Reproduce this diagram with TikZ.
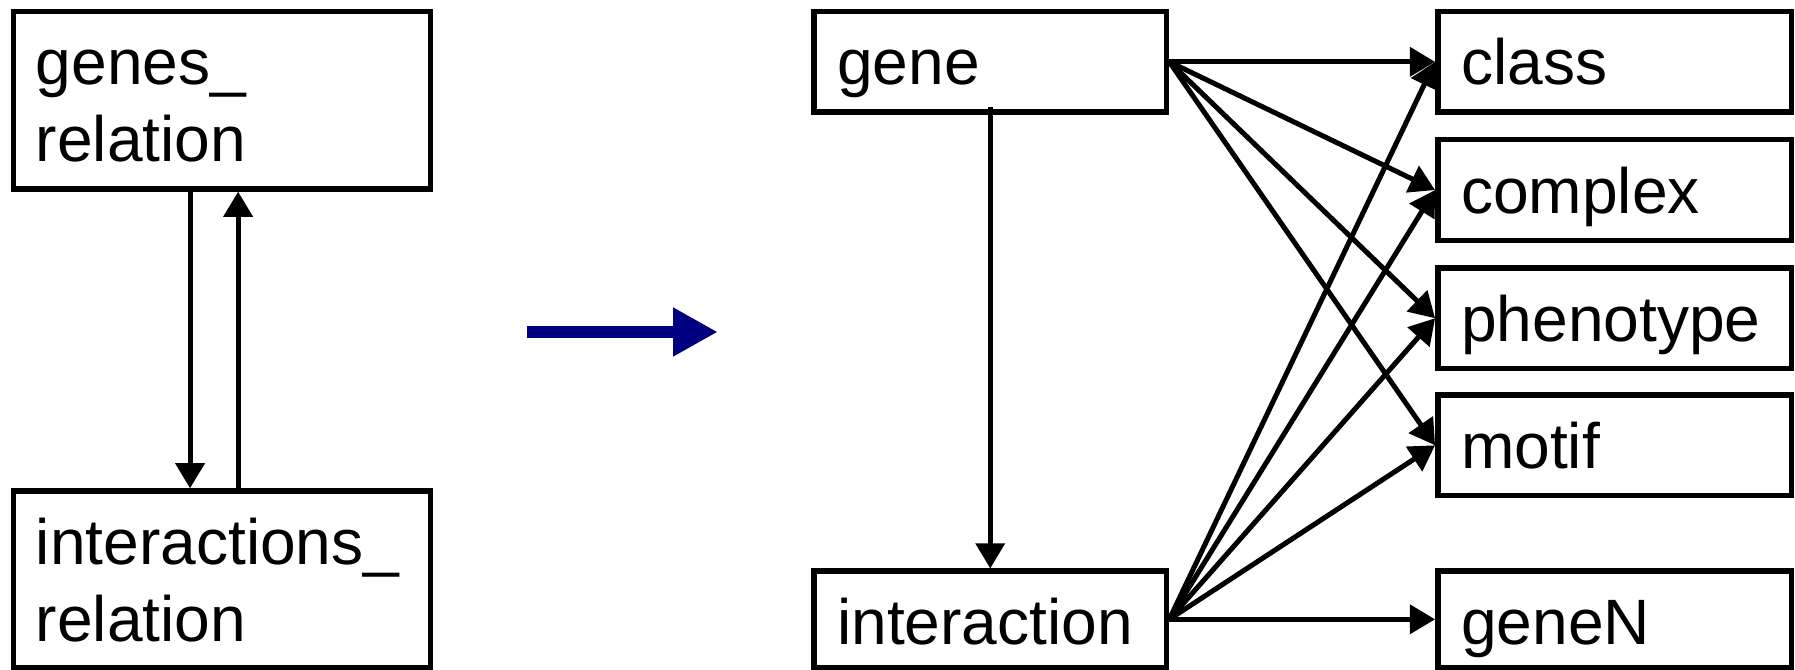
\documentclass[tikz,border=0pt]{standalone}
\usepackage{fontspec}
\setmainfont{Liberation Sans}
\usetikzlibrary{arrows.meta}
\definecolor{navyarrow}{RGB}{0,0,128}
\begin{document}
\begin{tikzpicture}[x=1pt,y=-1pt,
  box/.style={draw, line width=4.8pt, inner sep=0pt},
  lbl/.style={font=\fontsize{56}{67}\selectfont, inner sep=0pt, anchor=base west},
  link/.style={line width=4.4pt, -{Triangle[length=22pt,width=25pt]}},
  bigarrow/.style={draw=navyarrow, line width=10.5pt, -{Triangle[length=39pt,width=40pt]}}]
\useasboundingbox (0,0) rectangle (1568,585);

% relational schema (left)
\node[box, minimum width=364pt, minimum height=155pt] (gr) at (194,87.5) {};
\node[box, minimum width=364pt, minimum height=154pt] (ir) at (194,506) {};
\node[lbl] (gr-l) at ([shift={(21.5,66.5)}]gr.north west) {\vtop{\hbox{genes\_}\hbox{relation}}};
\node[lbl] (ir-l) at ([shift={(21.5,66.5)}]ir.north west) {\vtop{\hbox{interactions\_}\hbox{relation}}};
\draw[link] ([xshift=-28pt]gr.south) -- ([xshift=-28pt]ir.north);
\draw[link] ([xshift=14pt]ir.north) -- ([xshift=14pt]gr.south);

% transformation arrow
\coordinate (b0) at (460,290);
\coordinate (b1) at (627,290);
\draw[bigarrow] (b0) -- (b1);

% resulting schema (right)
\node[box, minimum width=308pt, minimum height=88pt] (gene) at (865,54) {};
\node[box, minimum width=308pt, minimum height=84pt] (inter) at (865,541) {};
\node[box, minimum width=309pt, minimum height=88pt] (class) at (1410.5,54) {};
\node[box, minimum width=309pt, minimum height=88pt] (complex) at (1410.5,166) {};
\node[box, minimum width=309pt, minimum height=88pt] (phenotype) at (1410.5,278) {};
\node[box, minimum width=309pt, minimum height=88pt] (motif) at (1410.5,389) {};
\node[box, minimum width=309pt, minimum height=84pt] (geneN) at (1410.5,541) {};

\node[lbl] (gene-l) at ([shift={(22.5,66.5)}]gene.north west) {gene};
\node[lbl] (inter-l) at ([shift={(22.5,66.5)}]inter.north west) {interaction};
\node[lbl] (class-l) at ([shift={(22.5,66.5)}]class.north west) {class};
\node[lbl] (complex-l) at ([shift={(22.5,66.5)}]complex.north west) {complex};
\node[lbl] (phenotype-l) at ([shift={(22.5,66.5)}]phenotype.north west) {phenotype};
\node[lbl] (motif-l) at ([shift={(22.5,66.5)}]motif.north west) {motif};
\node[lbl] (geneN-l) at ([shift={(22.5,66.5)}]geneN.north west) {geneN};

\draw[link] ([yshift=7pt]gene.south) -- (inter.north);
\foreach \t in {class,complex,phenotype,motif}
  \draw[link] (gene.east) -- (\t.west);
\foreach \t in {class,complex,phenotype,motif,geneN}
  \draw[link] (inter.east) -- (\t.west);
\end{tikzpicture}
\end{document}
